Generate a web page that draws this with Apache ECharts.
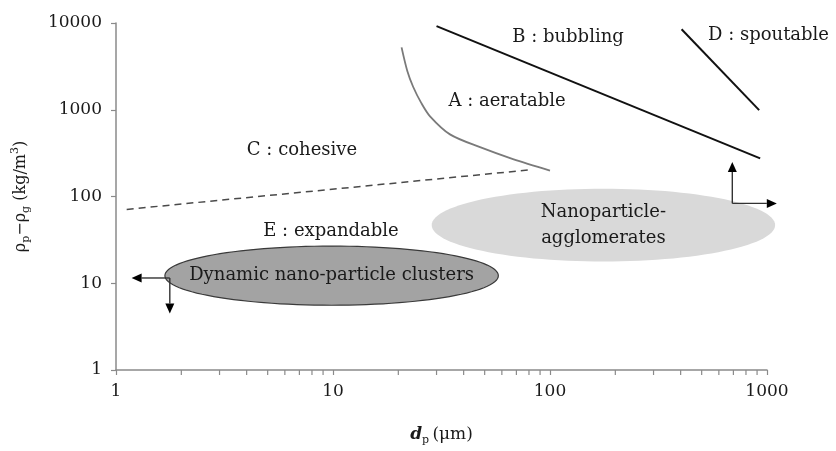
<!DOCTYPE html>
<html>
<head>
<meta charset="utf-8">
<script src="https://cdn.jsdelivr.net/npm/echarts@6/dist/echarts.min.js"></script>
<style>
  html, body { margin: 0; padding: 0; background: #fff; }
  #chart { width: 836px; height: 451px; }
</style>
</head>
<body>
<div id="chart"></div>
<script>
// Axis ranges and labels (log-log powder classification diagram)
const xTickValues = [1, 10, 100, 1000];
const yTickValues = [1, 10, 100, 1000, 10000];
const xMinorTicks = [2, 3, 4, 5, 6, 7, 8, 9, 20, 30, 40, 50, 60, 70, 80, 90, 200, 300, 400, 500, 600, 700, 800, 900];

// Group boundaries: [d_p (um), density difference (kg/m3)]
const boundaryCA = [[1.12, 71], [81, 203]];
const boundaryAB = [[20.7, 5240], [22.0, 2800], [23.4, 1841], [25.5, 1200], [28.0, 839], [34.6, 520], [47.6, 370], [67.5, 270], [100, 199]];
const boundaryB = [[30, 9200], [930, 275]];
const boundaryD = [[404, 8470], [920, 990]];

// Regions drawn as ellipses: [d_left, d_right, rho_bottom, rho_top]
const agglomerateBounds = [28.5, 1090, 17.8, 123];
const clusterBounds = [1.68, 57.8, 5.58, 26.8];

// Arrows: [x0, y0, x1, y1]
const arrows = [
  [1.77, 11.5, 1.18, 11.5],
  [1.77, 11.5, 1.77, 4.48],
  [692, 83.3, 692, 250],
  [692, 83.3, 1110, 83.3]
];

const serif = '"DejaVu Serif", "Liberation Serif", serif';
const ink = '#1a1a1a';

const chart = echarts.init(document.getElementById('chart'), null, { renderer: 'canvas' });

function ellipsePoints(cx, cy, rx, ry) {
  const pts = [];
  for (let i = 0; i < 120; i++) {
    const t = (i / 120) * Math.PI * 2;
    pts.push([cx + rx * Math.cos(t), cy + ry * Math.sin(t)]);
  }
  return pts;
}

function makeEllipseSeries(bounds, fill, stroke, lines, z) {
  return {
    type: 'custom',
    coordinateSystem: 'cartesian2d',
    clip: false,
    silent: true,
    z: z,
    data: [bounds],
    encode: { x: [0, 1], y: [2, 3] },
    renderItem: function (params, api) {
      const l = api.coord([api.value(0), api.value(2)]);
      const r = api.coord([api.value(1), api.value(3)]);
      const cx = (l[0] + r[0]) / 2, cy = (l[1] + r[1]) / 2;
      const rx = Math.abs(r[0] - l[0]) / 2, ry = Math.abs(l[1] - r[1]) / 2;
      const children = [{
        type: 'polygon',
        shape: { points: ellipsePoints(cx, cy, rx, ry) },
        style: { fill: fill, stroke: stroke || 'none', lineWidth: stroke ? 1.2 : 0 }
      }];
      const lh = 26;
      lines.forEach(function (txt, i) {
        children.push({
          type: 'text',
          style: {
            text: txt, x: cx, y: cy + (i - (lines.length - 1) / 2) * lh,
            align: 'center', verticalAlign: 'middle',
            font: '18px ' + serif, fill: ink
          }
        });
      });
      return { type: 'group', children: children };
    }
  };
}

function regionLabel(text, x, y, align) {
  return {
    type: 'text', x: x, y: y, z: 10,
    style: { text: text, font: '18px ' + serif, fill: ink, align: align || 'center', verticalAlign: 'middle' }
  };
}

const option = {
  animation: false,
  backgroundColor: '#ffffff',
  grid: { left: 116, right: 69, top: 23, bottom: 77, containLabel: false },
  xAxis: {
    type: 'log', logBase: 10,
    min: xTickValues[0], max: xTickValues[xTickValues.length - 1],
    name: '{d|d}{s|p} {u|(μm)}',
    nameLocation: 'middle', nameGap: 54,
    nameTextStyle: {
      rich: {
        d: { fontFamily: serif, fontSize: 17, fontWeight: 'bold', fontStyle: 'italic', color: ink, lineHeight: 22 },
        s: { fontFamily: serif, fontSize: 11, color: ink, verticalAlign: 'bottom', lineHeight: 22 },
        u: { fontFamily: serif, fontSize: 17, color: ink, lineHeight: 22 }
      }
    },
    axisLine: { show: true, lineStyle: { color: '#8a8a8a', width: 1.5 } },
    axisTick: { show: true, inside: false, length: 5, lineStyle: { color: '#8a8a8a', width: 1.2 } },
    axisLabel: {
      margin: 13, fontFamily: serif, fontSize: 17, color: ink,
      formatter: function (v) { return String(Math.round(v)); }
    },
    splitLine: { show: false }
  },
  yAxis: {
    type: 'log', logBase: 10,
    min: yTickValues[0], max: yTickValues[yTickValues.length - 1],
    name: '{r|ρ}{s|p}{r|−ρ}{s|g}{r| (kg/m}{t|3}{r|)}',
    nameLocation: 'middle', nameGap: 84, nameRotate: 90,
    nameTextStyle: {
      rich: {
        r: { fontFamily: serif, fontSize: 16, color: ink, lineHeight: 22 },
        s: { fontFamily: serif, fontSize: 11, color: ink, verticalAlign: 'bottom', lineHeight: 22 },
        t: { fontFamily: serif, fontSize: 11, color: ink, verticalAlign: 'top', lineHeight: 22 }
      }
    },
    axisLine: { show: true, lineStyle: { color: '#8a8a8a', width: 1.5 } },
    axisTick: { show: true, inside: false, length: 5, lineStyle: { color: '#8a8a8a', width: 1.2 } },
    axisLabel: {
      margin: 14, fontFamily: serif, fontSize: 17, color: ink,
      formatter: function (v) { return String(Math.round(v)); }
    },
    splitLine: { show: false }
  },
  series: [
    makeEllipseSeries(agglomerateBounds, '#d9d9d9', null, ['Nanoparticle-', 'agglomerates'], 1),
    makeEllipseSeries(clusterBounds, '#a3a3a3', '#3a3a3a', ['Dynamic nano-particle clusters'], 1),
    {
      type: 'line', data: boundaryCA, symbol: 'none', silent: true, z: 3,
      lineStyle: { color: '#4a4a4a', width: 1.5, type: [7, 5] }
    },
    {
      type: 'line', data: boundaryAB, symbol: 'none', smooth: 0.3, silent: true, z: 3,
      lineStyle: { color: '#7a7a7a', width: 1.8 }
    },
    {
      type: 'line', data: boundaryB, symbol: 'none', silent: true, z: 3,
      lineStyle: { color: '#111', width: 2 }
    },
    {
      type: 'line', data: boundaryD, symbol: 'none', silent: true, z: 3,
      lineStyle: { color: '#111', width: 2 }
    },
    {
      // arrows pointing out of the particle regions
      type: 'custom', coordinateSystem: 'cartesian2d', clip: false, silent: true, z: 4,
      data: arrows,
      encode: { x: [0, 2], y: [1, 3] },
      renderItem: function (params, api) {
        const p0 = api.coord([api.value(0), api.value(1)]);
        const p1 = api.coord([api.value(2), api.value(3)]);
        const dx = p1[0] - p0[0], dy = p1[1] - p0[1];
        const len = Math.sqrt(dx * dx + dy * dy);
        const ux = dx / len, uy = dy / len;
        const hl = 10, hw = 4.5;
        const bx = p1[0] - ux * hl, by = p1[1] - uy * hl;
        return {
          type: 'group',
          children: [
            { type: 'line', shape: { x1: p0[0], y1: p0[1], x2: bx, y2: by }, style: { stroke: '#333', lineWidth: 1.4 } },
            {
              type: 'polygon',
              shape: { points: [[p1[0], p1[1]], [bx - uy * hw, by + ux * hw], [bx + uy * hw, by - ux * hw]] },
              style: { fill: '#000' }
            }
          ]
        };
      }
    },
    {
      // minor ticks of the logarithmic d_p axis
      type: 'custom', coordinateSystem: 'cartesian2d', clip: false, silent: true, z: 2,
      data: xMinorTicks.map(function (v) { return [v, yTickValues[0]]; }),
      renderItem: function (params, api) {
        const p = api.coord([api.value(0), api.value(1)]);
        return {
          type: 'line',
          shape: { x1: p[0], y1: p[1], x2: p[0], y2: p[1] + 5 },
          style: { stroke: '#8a8a8a', lineWidth: 1.2 }
        };
      }
    }
  ],
  graphic: [
    regionLabel('B : bubbling', 568, 37),
    regionLabel('D : spoutable', 708, 35, 'left'),
    regionLabel('A : aeratable', 507, 101),
    regionLabel('C : cohesive', 302, 150),
    regionLabel('E : expandable', 331, 231)
  ]
};

chart.setOption(option);
</script>
</body>
</html>
